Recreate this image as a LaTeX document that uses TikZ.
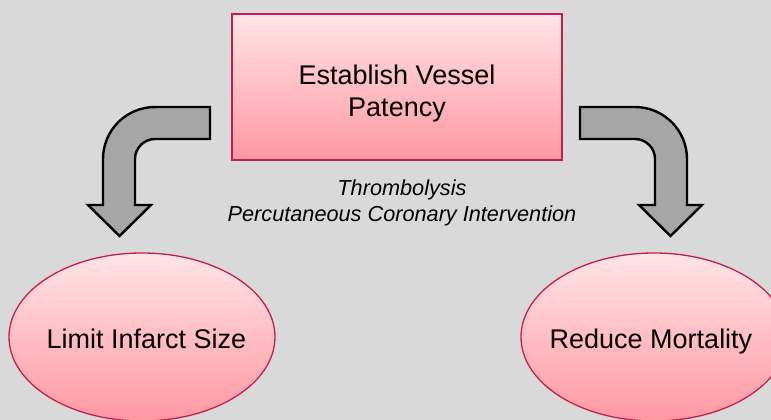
\documentclass[tikz,border=0pt]{standalone}
\usepackage{fontspec}
\setmainfont{Liberation Sans}
\usetikzlibrary{shapes.geometric}

\definecolor{bgGray}{HTML}{D9D9D9}
\definecolor{pinkTop}{HTML}{FFE4E8}
\definecolor{pinkBottom}{HTML}{FF98A1}
\definecolor{crimsonEdge}{HTML}{C41E4E}
\definecolor{arrowGray}{HTML}{A6A6A6}

\tikzset{
  goalbox/.style={rectangle, draw=crimsonEdge, line width=1.5pt,
    top color=pinkTop, bottom color=pinkBottom, inner sep=0pt},
  outcome/.style={ellipse, draw=crimsonEdge, line width=1.3pt,
    top color=pinkTop, bottom color=pinkBottom, inner sep=0pt,
    minimum width=266pt, minimum height=168pt},
  bigtext/.style={align=center, inner sep=0pt, font=\fontsize{27}{32.4}\selectfont},
  methods/.style={align=center, inner sep=0pt, font=\fontsize{21.7}{26}\selectfont\itshape},
  bentarrow/.style={draw=black, fill=arrowGray, line width=2.4pt, line join=miter}
}

\begin{document}
\begin{tikzpicture}[x=1pt, y=-1pt]
  % canvas
  \fill[bgGray] (0,0) rectangle (771,420);
  \useasboundingbox (0,0) rectangle (771,420);

  % central goal box
  \node[goalbox, minimum width=330pt, minimum height=146pt] (patency) at (397,87) {};
  \node[bigtext] (patencytext) at (397,93.5) {Establish Vessel\\Patency};

  % means of achieving it
  \node[methods] (means) at (402,202.4) {Thrombolysis\\Percutaneous Coronary Intervention};

  % outcomes (ellipse size fixed, text laid on top)
  \node[outcome] (infarct) at (142,337) {};
  \node[bigtext] (infarcttext) at (146.5,338.5) {Limit Infarct Size};
  \node[outcome] (mortality) at (654,337) {};
  \node[bigtext] (mortalitytext) at (651,342) {Reduce Mortality};

  % bent block arrow towards the left outcome
  \path[bentarrow]
    (210,107) -- (155,107)
    .. controls (126.3,107) and (103,130.3) .. (103,159)
    -- (103,205) -- (88,205) -- (119.5,236) -- (151,205) -- (135,205)
    -- (135,159)
    .. controls (135,148) and (144,139) .. (155,139)
    -- (210,139) -- cycle;

  % bent block arrow towards the right outcome
  \path[bentarrow]
    (580,107) -- (635,107)
    .. controls (663.7,107) and (687,130.3) .. (687,159)
    -- (687,205) -- (702,205) -- (670.5,236) -- (639,205) -- (655,205)
    -- (655,159)
    .. controls (655,148) and (646,139) .. (635,139)
    -- (580,139) -- cycle;
\end{tikzpicture}
\end{document}
